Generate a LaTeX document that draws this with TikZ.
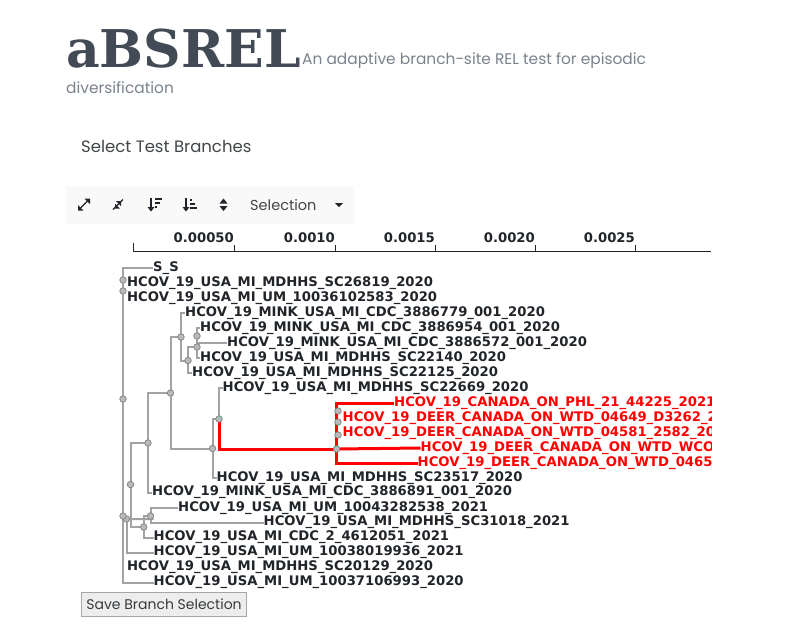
\documentclass[tikz,border=0pt]{standalone}
\usepackage{fontspec}
\setmainfont{DejaVu Sans}
\newfontfamily\titlefont{DejaVu Serif}
\newfontfamily\uifont{Poppins}
\definecolor{titlec}{HTML}{414A55}
\definecolor{subc}{HTML}{7A828C}
\definecolor{textc}{HTML}{212529}
\definecolor{branchc}{HTML}{A3A3A3}
\definecolor{nodec}{HTML}{B9B9B9}
\definecolor{redc}{HTML}{FF0000}
\tikzset{
  br/.style={draw=branchc,line width=2pt,line cap=square},
  rbr/.style={draw=redc,line width=3pt,line cap=square},
  inner/.style={circle,draw=gray,fill=nodec,line width=.7pt,inner sep=0pt,minimum size=6.5pt},
  tip/.style={font=\fontsize{13.2}{15}\selectfont\bfseries,text=textc,anchor=west,inner sep=0pt},
  rtip/.style={tip,text=redc},
  tk/.style={font=\fontsize{13.2}{15}\selectfont\bfseries,text=textc,anchor=east,inner sep=0pt},
  ui/.style={font=\uifont\fontsize{14.5}{17}\selectfont,inner sep=0pt,anchor=west},
  icon/.style={draw=textc,line width=1.4pt},
}
\begin{document}
\begin{tikzpicture}[x=1pt,y=-1pt]
\useasboundingbox (0,0) rectangle (808,635);
\fill[white] (0,0) rectangle (808,635);
% header
\node[anchor=west,inner sep=0pt,text=titlec,font=\titlefont\fontsize{52}{60}\selectfont\bfseries] (title) at (66,49) {aBSREL};
\node[ui,text=subc,font=\uifont\fontsize{15.4}{18}\selectfont] (sub1) at (302,61) {An adaptive branch-site REL test for episodic};
\node[ui,text=subc,font=\uifont\fontsize{15.4}{18}\selectfont] (sub2) at (66,88) {diversification};
\node[ui,text=textc!85,font=\uifont\fontsize{16.5}{20}\selectfont] (hdr) at (81,146) {Select Test Branches};
% toolbar
\fill[black!2.5] (66,186) rectangle (354,224);
\node[ui,text=textc!85] (sel) at (250,205) {Selection};
\fill[textc] (335,203) -- (343,203) -- (339,207) -- cycle;
% icons
\draw[icon,-] (80,208.5) -- (88,200.5);
\fill[textc] (78,205) -- (78,210.5) -- (83.5,210.5) -- cycle (90,204) -- (90,198.5) -- (84.5,198.5) -- cycle;
\draw[icon,-] (113,209.5) -- (123,199.5);
\fill[textc] (115,203.5) -- (120,203.5+5) -- (115,208.5) -- cycle (121,206) -- (116,201) -- (121,201) -- cycle;
\draw[icon] (151,198) -- (151,209);
\fill[textc] (147.5,207) -- (154.5,207) -- (151,211.5) -- cycle;
\draw[icon] (155,199) -- (162,199) (155,203) -- (160,203) (155,207) -- (157,207);
\draw[icon] (186,198) -- (186,209);
\fill[textc] (182.5,207) -- (189.5,207) -- (186,211.5) -- cycle;
\draw[icon] (190,200) -- (192,200) (190,204) -- (195,204) (190,208) -- (197,208);
\fill[textc] (219.5,203.5) -- (227.5,203.5) -- (223.5,198.5) -- cycle (219.5,206) -- (227.5,206) -- (223.5,211) -- cycle;
% axis
\draw[textc,line width=1pt] (133,243) -- (133,251) -- (711,251);
\foreach \x/\l in {234/0.00050,335/0.0010,435/0.0015,535/0.0020,635/0.0025}{
  \draw[textc,line width=1pt] (\x,245) -- (\x,251);
  \node[tk] at (\x,237.5) {\l};
}
% tree
\begin{scope}
\clip (0,255) rectangle (711,635);
% coordinates of tips
\node[tip] (t1) at (153,268) {S\_S};
\node[tip] (t2) at (127,283) {HCOV\_19\_USA\_MI\_MDHHS\_SC26819\_2020};
\node[tip] (t3) at (127,298) {HCOV\_19\_USA\_MI\_UM\_10036102583\_2020};
\node[tip] (t4) at (185,313) {HCOV\_19\_MINK\_USA\_MI\_CDC\_3886779\_001\_2020};
\node[tip] (t5) at (200,328) {HCOV\_19\_MINK\_USA\_MI\_CDC\_3886954\_001\_2020};
\node[tip] (t6) at (227,343) {HCOV\_19\_MINK\_USA\_MI\_CDC\_3886572\_001\_2020};
\node[tip] (t7) at (200,358) {HCOV\_19\_USA\_MI\_MDHHS\_SC22140\_2020};
\node[tip] (t8) at (192,373) {HCOV\_19\_USA\_MI\_MDHHS\_SC22125\_2020};
\node[tip] (t9) at (222.5,388) {HCOV\_19\_USA\_MI\_MDHHS\_SC22669\_2020};
\node[rtip] (r1) at (394,403) {HCOV\_19\_CANADA\_ON\_PHL\_21\_44225\_2021};
\node[rtip] (r2) at (342.5,418) {HCOV\_19\_DEER\_CANADA\_ON\_WTD\_04649\_D3262\_2021};
\node[rtip] (r3) at (342.5,433) {HCOV\_19\_DEER\_CANADA\_ON\_WTD\_04581\_2582\_2021};
\node[rtip] (r4) at (420.5,448) {HCOV\_19\_DEER\_CANADA\_ON\_WTD\_WCOV\_2021};
\node[rtip] (r5) at (417.5,463) {HCOV\_19\_DEER\_CANADA\_ON\_WTD\_04658\_2021};
\node[tip] (t10) at (216.5,478) {HCOV\_19\_USA\_MI\_MDHHS\_SC23517\_2020};
\node[tip] (t11) at (152,492.5) {HCOV\_19\_MINK\_USA\_MI\_CDC\_3886891\_001\_2020};
\node[tip] (t12) at (178,508) {HCOV\_19\_USA\_MI\_UM\_10043282538\_2021};
\node[tip] (t13) at (263.5,522.5) {HCOV\_19\_USA\_MI\_MDHHS\_SC31018\_2021};
\node[tip] (t14) at (153.5,537.5) {HCOV\_19\_USA\_MI\_CDC\_2\_4612051\_2021};
\node[tip] (t15) at (153.5,552.5) {HCOV\_19\_USA\_MI\_UM\_10038019936\_2021};
\node[tip] (t16) at (127,567.5) {HCOV\_19\_USA\_MI\_MDHHS\_SC20129\_2020};
\node[tip] (t17) at (153.5,582.5) {HCOV\_19\_USA\_MI\_UM\_10037106993\_2020};
% internal nodes
\coordinate (a) at (123,399);
\coordinate (b) at (130.5,484.5);
\coordinate (c) at (148,443);
\coordinate (d) at (170.5,393);
\coordinate (e) at (181,337);
\coordinate (f) at (188,360.5);
\coordinate (g) at (197,347);
\coordinate (h) at (197,336);
\coordinate (i) at (212.5,448.5);
\coordinate (j) at (219,419);
\coordinate (k) at (336.5,449);
\coordinate (l) at (338,411);
\coordinate (m) at (338,422);
\coordinate (n) at (338,435);
\coordinate (o) at (143.7,527);
\coordinate (p) at (150.5,516);
\coordinate (q) at (126.5,519);
\coordinate (q0) at (123,516);
\coordinate (a1) at (123,280);
\coordinate (a2) at (123,291);
% grey branches
\draw[br] (t1.west) -| (a);
\draw[br] (a) -- (123,582.5) -- (t17.west);
\draw[br] (q0) -- (q) -- (t15.west |- q) ;
\path (q) -- (q);
\draw[br] (126.5,519) |- (t15.west);
\draw[br] (q) -| (b);
\draw[br] (b) |- (c);
\draw[br] (b) |- (o);
\draw[br] (o) |- (t14.west);
\draw[br] (o) |- (p);
\draw[br] (p) |- (t12.west);
\draw[br] (p) |- (t13.west);
\draw[br] (c) |- (t11.west);
\draw[br] (c) |- (d);
\draw[br] (d) |- (e);
\draw[br] (d) |- (i);
\draw[br] (e) |- (t4.west);
\draw[br] (e) |- (f);
\draw[br] (f) |- (g);
\draw[br] (f) |- (t8.west);
\draw[br] (g) |- (t6.west);
\draw[br] (g) |- (t7.west);
\draw[br] (g) -- (h);
\draw[br] (h) |- (t5.west);
\draw[br] (i) |- (j);
\draw[br] (i) |- (t10.west);
\draw[br] (j) |- (t9.west);
% red branches
\draw[rbr] (j) |- (k);
\draw[rbr] (k) |- (r1.west);
\draw[rbr] (k) |- (r5.west);
\draw[rbr] (k) -- (r4.west);
\foreach \c in {a,a1,a2,b,c,d,e,f,g,h,i,j,k,l,m,n,o,p,q,q0}{
  \node[inner] at (\c) {};
}
\end{scope}
% button
\node[draw=gray!70,line width=1.2pt,fill=black!7,minimum width=165pt,minimum height=24pt,inner sep=0pt,text=textc!90,font=\uifont\fontsize{14}{17}\selectfont] (save) at (164,604.5) {Save Branch Selection};
\end{tikzpicture}
\end{document}
